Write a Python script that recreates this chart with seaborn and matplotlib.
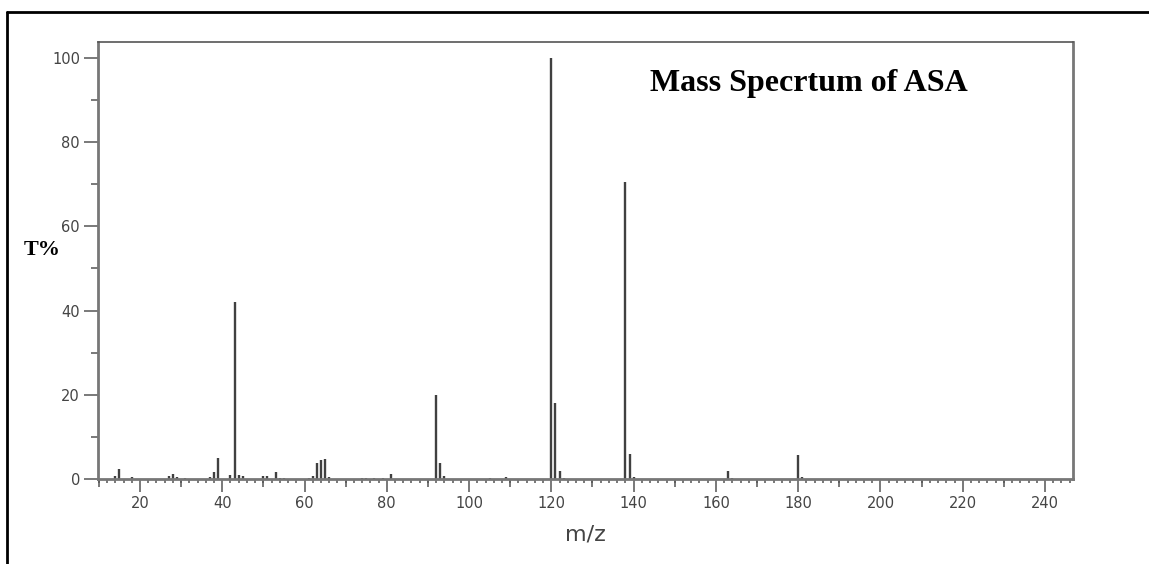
import matplotlib
matplotlib.use("Agg")
import matplotlib.pyplot as plt
from matplotlib.ticker import MultipleLocator, NullFormatter
from matplotlib.lines import Line2D
import seaborn as sns
import pandas as pd

# peak list (m/z, relative intensity %)
mz = [14, 15, 18, 27, 28, 29, 31, 37, 38, 39, 42, 43, 44, 45, 50, 51, 53, 54,
      55, 61, 62, 63, 64, 65, 66, 74, 75, 77, 79, 81, 92, 93, 94, 105, 109,
      120, 121, 122, 123, 138, 139, 140, 163, 164, 180, 181]
intensity = [0.7, 2.4, 0.5, 0.8, 1.3, 0.5, 0.3, 0.5, 1.6, 4.9, 1.0, 42.0, 0.9,
             0.8, 0.8, 0.6, 1.6, 0.3, 0.3, 0.3, 0.8, 3.7, 4.5, 4.8, 0.5, 0.3,
             0.3, 0.3, 0.3, 1.3, 19.9, 3.7, 0.6, 0.3, 0.5, 100.0, 18.0, 1.8,
             0.3, 70.6, 5.9, 0.4, 1.9, 0.3, 5.6, 0.4]
y_ticks = [0, 20, 40, 60, 80, 100]
x_ticks = [20, 40, 60, 80, 100, 120, 140, 160, 180, 200, 220, 240]

df = pd.DataFrame({"mz": mz, "intensity": intensity})

sns.set_theme(style="white")
plt.rcParams["font.family"] = ["DejaVu Sans"]

fig = plt.figure(figsize=(11.49, 5.64), dpi=100)
ax = fig.add_axes([98 / 1149, 1 - 479 / 564, 975 / 1149, 437 / 564])

grey = "#555555"
ax.vlines(df["mz"], 0, df["intensity"], color="#404040", linewidth=1.7)

ax.set_xlim(9.8, 246.8)
ax.set_ylim(0, 103.8)

ax.set_xticks(x_ticks)
ax.set_yticks(y_ticks)
ax.xaxis.set_minor_locator(MultipleLocator(2))
ax.yaxis.set_minor_locator(MultipleLocator(10))
ax.tick_params(axis="y", which="major", direction="out", length=10, width=1.1,
               color=grey, labelcolor="#444444", labelsize=10.5, pad=3, left=True)
ax.tick_params(axis="y", which="minor", direction="out", length=5, width=1.1,
               color=grey, left=True)
ax.tick_params(axis="x", which="major", direction="out", length=9, width=1.1,
               color=grey, labelcolor="#444444", labelsize=10.5, pad=3, bottom=True)
ax.tick_params(axis="x", which="minor", direction="out", length=3, width=1.1,
               color=grey, bottom=True)

# medium ticks at the odd tens
sec = ax.secondary_xaxis("bottom")
sec.set_xticks([10, 30, 50, 70, 90, 110, 130, 150, 170, 190, 210, 230])
sec.xaxis.set_major_formatter(NullFormatter())
sec.tick_params(axis="x", direction="out", length=5.5, width=1.1, color=grey)
sec.spines["bottom"].set_visible(False)

for side in ["left", "right", "bottom"]:
    ax.spines[side].set_color("#777777")
    ax.spines[side].set_linewidth(2)
ax.spines["top"].set_color("#555555")
ax.spines["top"].set_linewidth(1.2)

ax.set_xlabel("m/z", fontsize=16, color="#444444", labelpad=10)
ax.set_ylabel("")

ax.text(0.729, 0.906, "Mass Specrtum of ASA", transform=ax.transAxes,
        ha="center", va="center", fontsize=23, fontweight="bold",
        family=["Liberation Serif", "DejaVu Serif"], color="black")
fig.text(42 / 1149, 1 - 250 / 564, "T%", ha="center", va="center",
         fontsize=16, fontweight="bold",
         family=["Liberation Serif", "DejaVu Serif"], color="black")

# outer frame lines (top and left only)
fig.add_artist(Line2D([7 / 1149, 1], [1 - 12 / 564, 1 - 12 / 564],
                      transform=fig.transFigure, color="black", linewidth=2))
fig.add_artist(Line2D([7 / 1149, 7 / 1149], [0, 1 - 12 / 564],
                      transform=fig.transFigure, color="black", linewidth=2))

fig.savefig("out.png", dpi=100)
